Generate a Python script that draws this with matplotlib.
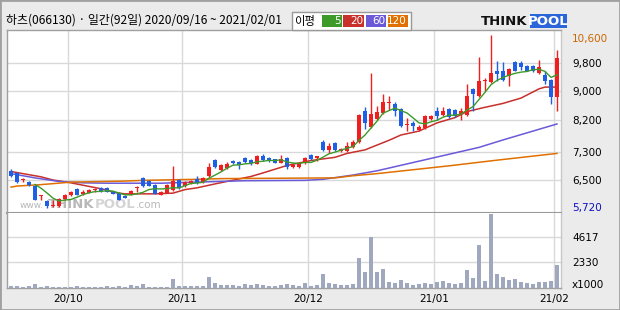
import matplotlib
matplotlib.use('Agg')
import matplotlib.pyplot as plt
from matplotlib.patches import Rectangle
import numpy as np
import pandas as pd

plt.rcParams['font.family'] = ['DejaVu Sans']

# ---- data ----
title = '하츠(066130) · 일간(92일) 2020/09/16 ~ 2021/02/01'

opens = [6760, 6700, 6500, 6440, 6330, 6060, 5900, 5760, 5770, 5970,
         6080, 6250, 6110, 6130, 6230, 6280, 6270, 6190, 6130, 6050,
         6080, 6280, 6560, 6470, 6360, 6080, 6130, 6220, 6500, 6330,
         6420, 6530, 6440, 6610, 7060, 6780, 6840, 7040, 7010, 7120,
         7060, 6950, 7180, 7120, 7090, 6980, 7120, 6870, 6870, 6980,
         7210, 7120, 7570, 7350, 7540, 7320, 7320, 7430, 7570, 8450,
         8000, 8220, 8390, 8680, 8640, 8500, 8050, 8110, 7910, 7970,
         8220, 8450, 8330, 8500, 8470, 8360, 8330, 9070, 8870, 9300,
         9260, 9580, 9580, 9430, 9830, 9800, 9720, 9720, 9520, 9460,
         9320, 8840]
highs = [6800, 6720, 6560, 6460, 6350, 6090, 5930, 5950, 5980, 6110,
         6180, 6270, 6220, 6240, 6280, 6300, 6300, 6200, 6150, 6070,
         6220, 6320, 6580, 6490, 6380, 6180, 6380, 6900, 6520, 6460,
         6500, 6620, 6580, 6980, 7080, 6950, 7010, 7060, 7030, 7150,
         7090, 7210, 7220, 7150, 7100, 7210, 7140, 6980, 7010, 7150,
         7230, 7190, 7640, 7540, 7560, 7390, 7570, 7640, 8360, 8560,
         9520, 8590, 8930, 8870, 8700, 8530, 8250, 8160, 8050, 8340,
         8330, 8560, 8560, 8520, 8490, 8530, 9210, 9090, 9970, 9380,
         10600, 9860, 9830, 9660, 9850, 9860, 9740, 9740, 9890, 9570,
         9360, 10170]
lows = [6580, 6420, 6440, 6340, 5930, 5940, 5720, 5730, 5750, 5940,
        6060, 6070, 6080, 6120, 6170, 6170, 6150, 6100, 5930, 5990,
        6070, 6160, 6310, 6320, 6100, 6070, 6120, 6200, 6260, 6310,
        6400, 6400, 6420, 6590, 6850, 6760, 6820, 6960, 6810, 6990,
        6930, 6940, 7040, 7020, 6970, 6970, 6810, 6850, 6850, 6960,
        7070, 7050, 7330, 7260, 7330, 7300, 7300, 7410, 7550, 7940,
        7970, 8200, 8370, 8480, 8300, 8000, 7880, 7880, 7890, 7950,
        8200, 8190, 8310, 8260, 8290, 8190, 8310, 8450, 8850, 9010,
        9240, 9290, 9300, 9150, 9560, 9600, 9560, 9550, 9500, 9210,
        8650, 8450]
closes = [6600, 6440, 6530, 6360, 5940, 6080, 5760, 5800, 5960, 6080,
          6160, 6080, 6160, 6220, 6250, 6190, 6170, 6110, 5940, 6000,
          6190, 6310, 6330, 6330, 6110, 6160, 6360, 6470, 6280, 6440,
          6470, 6420, 6560, 6870, 6870, 6920, 6950, 6980, 6920, 7010,
          6980, 7180, 7060, 7040, 6980, 7090, 6870, 6920, 6980, 7120,
          7090, 7180, 7350, 7460, 7350, 7370, 7460, 7570, 8330, 8110,
          8360, 8420, 8700, 8700, 8450, 8020, 8080, 8020, 7990, 8310,
          8300, 8300, 8450, 8280, 8310, 8450, 8870, 8930, 9290, 9320,
          9520, 9490, 9320, 9630, 9580, 9690, 9580, 9570, 9690, 9290,
          8840, 9940]
volumes = [210, 210, 120, 210, 400, 120, 210, 120, 120, 120,
           120, 210, 120, 120, 120, 120, 210, 120, 210, 120,
           300, 210, 400, 120, 120, 120, 120, 850, 210, 210,
           210, 210, 210, 1040, 490, 300, 300, 300, 210, 400,
           300, 400, 300, 210, 210, 270, 360, 270, 180, 450,
           180, 270, 1270, 450, 360, 270, 270, 360, 2720, 1450,
           4630, 1450, 1730, 540, 450, 730, 450, 270, 360, 450,
           360, 540, 640, 450, 360, 450, 1630, 910, 3900, 640,
           6720, 1270, 1000, 730, 820, 540, 450, 360, 540, 540,
           640, 2090]

# longer moving averages (need history before the window)
ma20_idx = [0, 2, 5, 7, 10, 13, 16, 17, 19, 24, 27, 29, 31, 34, 36, 40, 42, 46,
            50, 54, 56, 59, 63, 65, 68, 71, 74, 76, 79, 82, 85, 88, 89, 91]
ma20_val = [6740, 6680, 6590, 6500, 6420, 6320, 6220, 6150, 6110, 6110, 6130, 6230,
            6280, 6390, 6460, 6600, 6700, 6910, 7050, 7140, 7250, 7350, 7620, 7770,
            7880, 8110, 8260, 8430, 8550, 8660, 8810, 9070, 9120, 9120]
ma60_idx = [0, 4, 8, 12, 16, 25, 31, 39, 49, 52, 57, 61, 78, 82, 91]
ma60_val = [6680, 6560, 6460, 6420, 6410, 6410, 6440, 6480, 6490, 6520, 6640,
            6760, 7420, 7630, 8080]
ma120_idx = [0, 1, 5, 10, 19, 22, 31, 35, 54, 57, 61, 73, 81, 91]
ma120_val = [6300, 6330, 6370, 6440, 6470, 6490, 6520, 6540, 6560, 6620, 6680,
             6900, 7060, 7250]

price_ticks = [6500, 7300, 8200, 9000, 9800]
vol_ticks = [2330, 4617]
month_pos = [9.5, 28.5, 49.5, 70.5, 90.5]
month_labels = ['20/10', '20/11', '20/12', '21/01', '21/02']
ma_labels = ['5', '20', '60', '120']

RED, BLUE = '#f01e1e', '#1f5fe6'
MA_COLORS = ['#3c9a28', '#c8302c', '#6a5ad8', '#e07000']
GRID = '#d9d9d9'
BG = '#ebebeb'

W, H = 620, 310


def fx(px):
    return px / W


def fy(py):
    return 1 - py / H


fig = plt.figure(figsize=(6.2, 3.1), dpi=100)
fig.patch.set_facecolor(BG)

L, R = 7, 561
ax = fig.add_axes([fx(L), fy(213), fx(R) - fx(L), fy(30) - fy(213)])
axv = fig.add_axes([fx(L), fy(288), fx(R) - fx(L), fy(213) - fy(288)], sharex=ax)

x = np.arange(len(closes))
o, c = np.array(opens), np.array(closes)
h, l = np.array(highs), np.array(lows)
col = np.where(c >= o, RED, BLUE)

# candles
ax.vlines(x, l, h, colors=col, lw=1.0, zorder=3)
ax.bar(x, np.maximum(np.abs(c - o), 25), bottom=np.minimum(o, c), width=0.82,
       color=col, linewidth=0, zorder=4)

# moving averages
ma5 = pd.Series(closes).rolling(5).mean()
ax.plot(x, ma5, color=MA_COLORS[0], lw=1.0, zorder=5)
ax.plot(ma20_idx, ma20_val, color=MA_COLORS[1], lw=1.1, zorder=2)
ax.plot(ma60_idx, ma60_val, color=MA_COLORS[2], lw=1.1, zorder=2)
ax.plot(ma120_idx, ma120_val, color=MA_COLORS[3], lw=1.1, zorder=2)

ax.set_xlim(-0.67, 91.67)
ax.set_ylim(5570, 10730)
ax.set_yticks(price_ticks)
ax.yaxis.tick_right()
ax.yaxis.set_major_formatter(plt.FuncFormatter(lambda v, p: f'{v:,.0f}'))
ax.tick_params(axis='y', length=0, pad=8, labelsize=7.5)
ax.tick_params(axis='x', length=0, labelbottom=False)
ax.set_xticks(month_pos)
ax.grid(color=GRID, lw=1)
ax.set_axisbelow(True)

# high / low labels
ax.annotate(f'{max(highs):,}', xy=(1, max(highs)), xycoords=('axes fraction', 'data'),
            xytext=(8, -3), textcoords='offset points', va='center', ha='left',
            fontsize=7.5, color='#cc6600', annotation_clip=False)
ax.annotate(f'{min(lows):,}', xy=(1, min(lows)), xycoords=('axes fraction', 'data'),
            xytext=(8, 0), textcoords='offset points', va='center', ha='left',
            fontsize=7.5, color='#1010c0', annotation_clip=False)

# watermark
wy = (213 - 205) / (213 - 30)
ax.text((20 - L) / (R - L), wy, 'www.', transform=ax.transAxes, fontsize=6.5,
        color='#b8b8b8', va='center', zorder=1)
ax.text((48 - L) / (R - L), wy, 'THINK', transform=ax.transAxes, fontsize=9.5,
        weight='bold', color='#b8b8b8', va='center', zorder=1)
ax.text((95 - L) / (R - L), wy, 'POOL', transform=ax.transAxes, fontsize=9.5,
        weight='bold', color='#d4d4d4', va='center', zorder=1)
ax.text((136 - L) / (R - L), wy, '.com', transform=ax.transAxes, fontsize=7.5,
        color='#b8b8b8', va='center', zorder=1)

# volume
axv.bar(x, volumes, width=0.8, color='#a0a8c0', linewidth=0, zorder=3)
axv.set_ylim(0, 6810)
axv.set_yticks(vol_ticks)
axv.set_yticklabels([str(v) for v in vol_ticks])
axv.yaxis.tick_right()
axv.tick_params(axis='y', length=0, pad=8, labelsize=7.5)
axv.set_xticks(month_pos)
axv.set_xticklabels(month_labels)
axv.tick_params(axis='x', length=0, pad=4, labelsize=7.5)
axv.grid(color=GRID, lw=1)
axv.set_axisbelow(True)
axv.annotate('x1000', xy=(1, 0), xycoords='axes fraction', xytext=(8, 2),
             textcoords='offset points', va='center', ha='left', fontsize=7.5,
             annotation_clip=False)

for a in (ax, axv):
    a.set_facecolor('white')
    for s in a.spines.values():
        s.set_color('#a0a0a0')
        s.set_linewidth(1)
    a.spines['right'].set_color('#c8c8c8')
ax.spines['bottom'].set_color('#999999')
ax.spines['bottom'].set_linewidth(1.5)
axv.spines['top'].set_visible(False)

# header
fig.text(fx(6), fy(20.5), title, family=['Noto Sans CJK KR', 'DejaVu Sans'],
         fontsize=8.6, va='center', ha='left')

fig.add_artist(Rectangle((fx(292), fy(29.5)), fx(411) - fx(292), fy(12.5) - fy(29.5),
                         transform=fig.transFigure, facecolor='white',
                         edgecolor='#999999', lw=1))
fig.text(fx(294), fy(21), '이평', family=['Noto Sans CJK KR', 'DejaVu Sans'],
         fontsize=8.2, va='center', ha='left')
box_x = [(322, 342), (343, 364), (366, 386), (388, 408)]
for (x0, x1), lab, cc in zip(box_x, ma_labels, MA_COLORS):
    fig.add_artist(Rectangle((fx(x0), fy(27)), fx(x1) - fx(x0), fy(15) - fy(27),
                             transform=fig.transFigure, facecolor=cc, lw=0))
    fig.text(fx(x1 - 1), fy(21), lab, color='white', fontsize=7.5,
             va='center', ha='right')

# logo
fig.text(fx(481), fy(21.5), 'THINK', fontsize=9.5, weight='bold', color='#111111',
         va='center', ha='left')
fig.add_artist(Rectangle((fx(530), fy(28)), fx(567) - fx(530), fy(14) - fy(28),
                         transform=fig.transFigure, facecolor='#2a66d9', lw=0))
fig.text(fx(548.5), fy(21.5), 'POOL', fontsize=9.5, weight='bold', color='white',
         va='center', ha='center')

fig.add_artist(Rectangle((0, 0), 1, 1, transform=fig.transFigure, fill=False,
                         edgecolor='#a0a0a0', lw=2))

fig.savefig('out.png', dpi=100, facecolor=fig.get_facecolor())
